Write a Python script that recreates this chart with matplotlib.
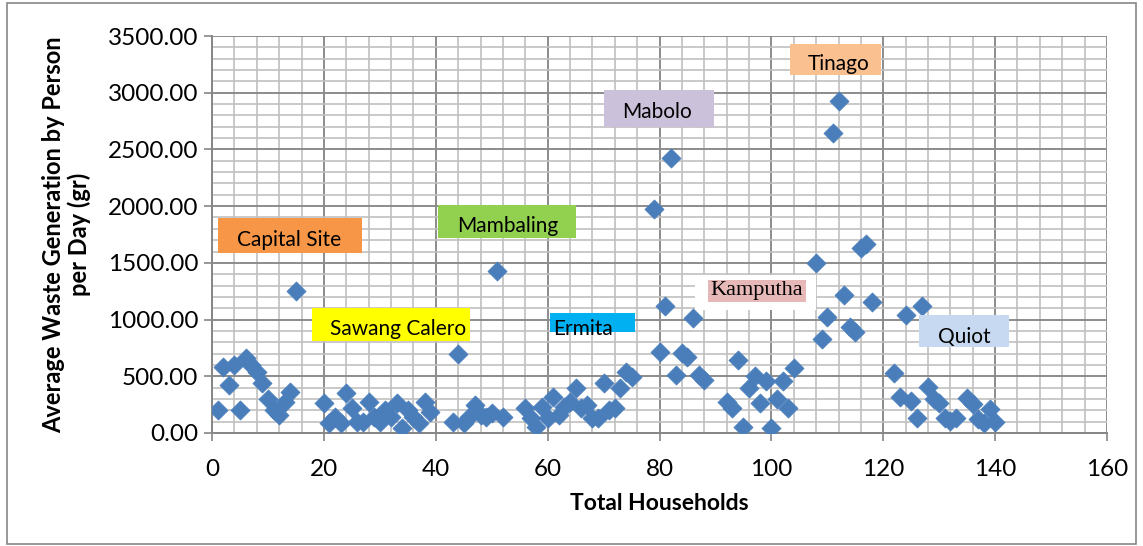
import matplotlib.pyplot as plt
from matplotlib.patches import Rectangle
from matplotlib.ticker import MultipleLocator, FormatStrFormatter

# household index vs average waste per person per day (gr)
households = [1, 2, 3, 4, 5, 6, 7, 8, 9, 10, 11, 12, 13, 14, 15,
              20, 21, 22, 23, 24, 25, 26, 27, 28, 29, 30, 31, 32, 33, 34, 35, 36, 37, 38, 39,
              43, 44, 45, 46, 47, 48, 49, 50, 51, 52,
              56, 57, 58, 59, 60, 61, 62, 63, 64, 65, 66, 67, 68, 69, 70, 71, 72, 73, 74, 75,
              79, 80, 81, 82, 83, 84, 85, 86, 87, 88,
              92, 93, 94, 95, 96, 97, 98, 99, 100, 101, 102, 103, 104,
              108, 109, 110, 111, 112, 113, 114, 115, 116, 117, 118,
              122, 123, 124, 125, 126, 127, 128, 129, 130, 131, 132, 133, 135, 136, 137, 138, 139, 140]
waste = [200, 583, 420, 598, 202, 660, 598, 540, 437, 296, 202, 158, 275, 363, 1250,
         261, 85, 144, 85, 355, 217, 100, 100, 275, 144, 100, 202, 144, 261, 41, 202, 144, 85, 275, 187,
         100, 700, 85, 144, 246, 158, 144, 173, 1430, 144,
         217, 129, 50, 231, 129, 319, 158, 230, 275, 393, 217, 246, 129, 129, 444, 202, 217, 393, 540, 495,
         1975, 712, 1117, 2425, 510, 701, 671, 1017, 510, 469,
         275, 223, 642, 53, 393, 498, 261, 457, 44, 297, 457, 217, 569,
         1498, 833, 1023, 2641, 2926, 1214, 933, 891, 1633, 1662, 1155,
         525, 317, 1038, 280, 129, 1117, 407, 298, 268, 129, 107, 129, 305, 254, 122, 85, 212, 95]

plt.rcParams['font.family'] = ['Lato', 'DejaVu Sans']

fig = plt.figure(figsize=(11.43, 5.46), dpi=100)
ax = fig.add_axes([0.1855, 0.207, 0.783, 0.727])

ax.scatter(households, waste, marker='D', s=95, color='#4A7EBB',
           edgecolors='#4A7EBB', linewidths=0.5, zorder=3)

ax.set_xlim(0, 160)
ax.set_ylim(0, 3500)
ax.xaxis.set_major_locator(MultipleLocator(20))
ax.xaxis.set_minor_locator(MultipleLocator(4))
ax.yaxis.set_major_locator(MultipleLocator(500))
ax.yaxis.set_minor_locator(MultipleLocator(100))
ax.yaxis.set_major_formatter(FormatStrFormatter('%.2f'))

ax.grid(which='minor', color='#C0C0C0', lw=1.2, zorder=0)
ax.grid(which='major', color='#8C8C8C', lw=1.4, zorder=1)
ax.set_axisbelow(True)
for side in ['top', 'right']:
    ax.spines[side].set_visible(False)
for side in ['left', 'bottom']:
    ax.spines[side].set_color('#868686')
    ax.spines[side].set_linewidth(1.4)
ax.tick_params(which='major', length=6, color='#868686', width=1.2, labelsize=17.5, pad=4)
ax.tick_params(axis='x', which='major', pad=13)
ax.tick_params(which='minor', length=0)

ax.set_xlabel('Total Households', fontsize=16.5, fontweight='bold', labelpad=9)
ax.set_ylabel('Average Waste Generation by Person\nper Day (gr)', fontsize=17,
              fontweight='bold', labelpad=12, linespacing=1.1)

# area labels: (text, x0, x1, y0, y1, fill, text x, text y)
areas = [
    ('Capital Site', 1.1, 26.8, 1587, 1895, '#F79646', 4.5, 1701),
    ('Mambaling', 40.4, 65.0, 1719, 2010, '#92D050', 43.8, 1825),
    ('Sawang Calero', 17.9, 46.2, 811, 1102, '#FFFF00', 21.1, 917),
    ('Mabolo', 70.0, 89.7, 2698, 3024, '#CCC1DA', 73.4, 2830),
    ('Tinago', 103.4, 119.6, 3156, 3429, '#FAC090', 106.5, 3253),
    ('Quiot', 126.4, 142.5, 758, 1040, '#C6D9F1', 129.8, 846),
]
for name, x0, x1, y0, y1, fc, tx, ty in areas:
    ax.add_patch(Rectangle((x0, y0), x1 - x0, y1 - y0, facecolor=fc,
                           edgecolor='none', zorder=4))
    ax.text(tx, ty, name, fontsize=15, va='center', ha='left', zorder=5)

# Ermita label sits in a short box that cuts the text off
erm = Rectangle((60.5, 890), 15.2, 168, facecolor='#00B0F0', edgecolor='none', zorder=4)
ax.add_patch(erm)
t = ax.text(61.0, 915, 'Ermita', fontsize=15, va='center', ha='left', zorder=5)
t.set_clip_path(erm)

# Kamputha label: white frame with a pink inner box
ax.add_patch(Rectangle((86.4, 1084), 21.5, 309, facecolor='white', edgecolor='none', zorder=4))
ax.add_patch(Rectangle((88.6, 1155), 17.5, 194, facecolor='#E6B9B8', edgecolor='none', zorder=4))
ax.text(89.1, 1252, 'Kamputha', fontsize=16, family=['Liberation Serif', 'DejaVu Serif'],
        va='center', ha='left', zorder=5)

# chart frame
fig.patches.append(Rectangle((7 / 1143, 2 / 546), 1129 / 1143, 541 / 546, transform=fig.transFigure,
                             fill=False, edgecolor='#868686', lw=1.2))

fig.savefig('out.png', dpi=100)
